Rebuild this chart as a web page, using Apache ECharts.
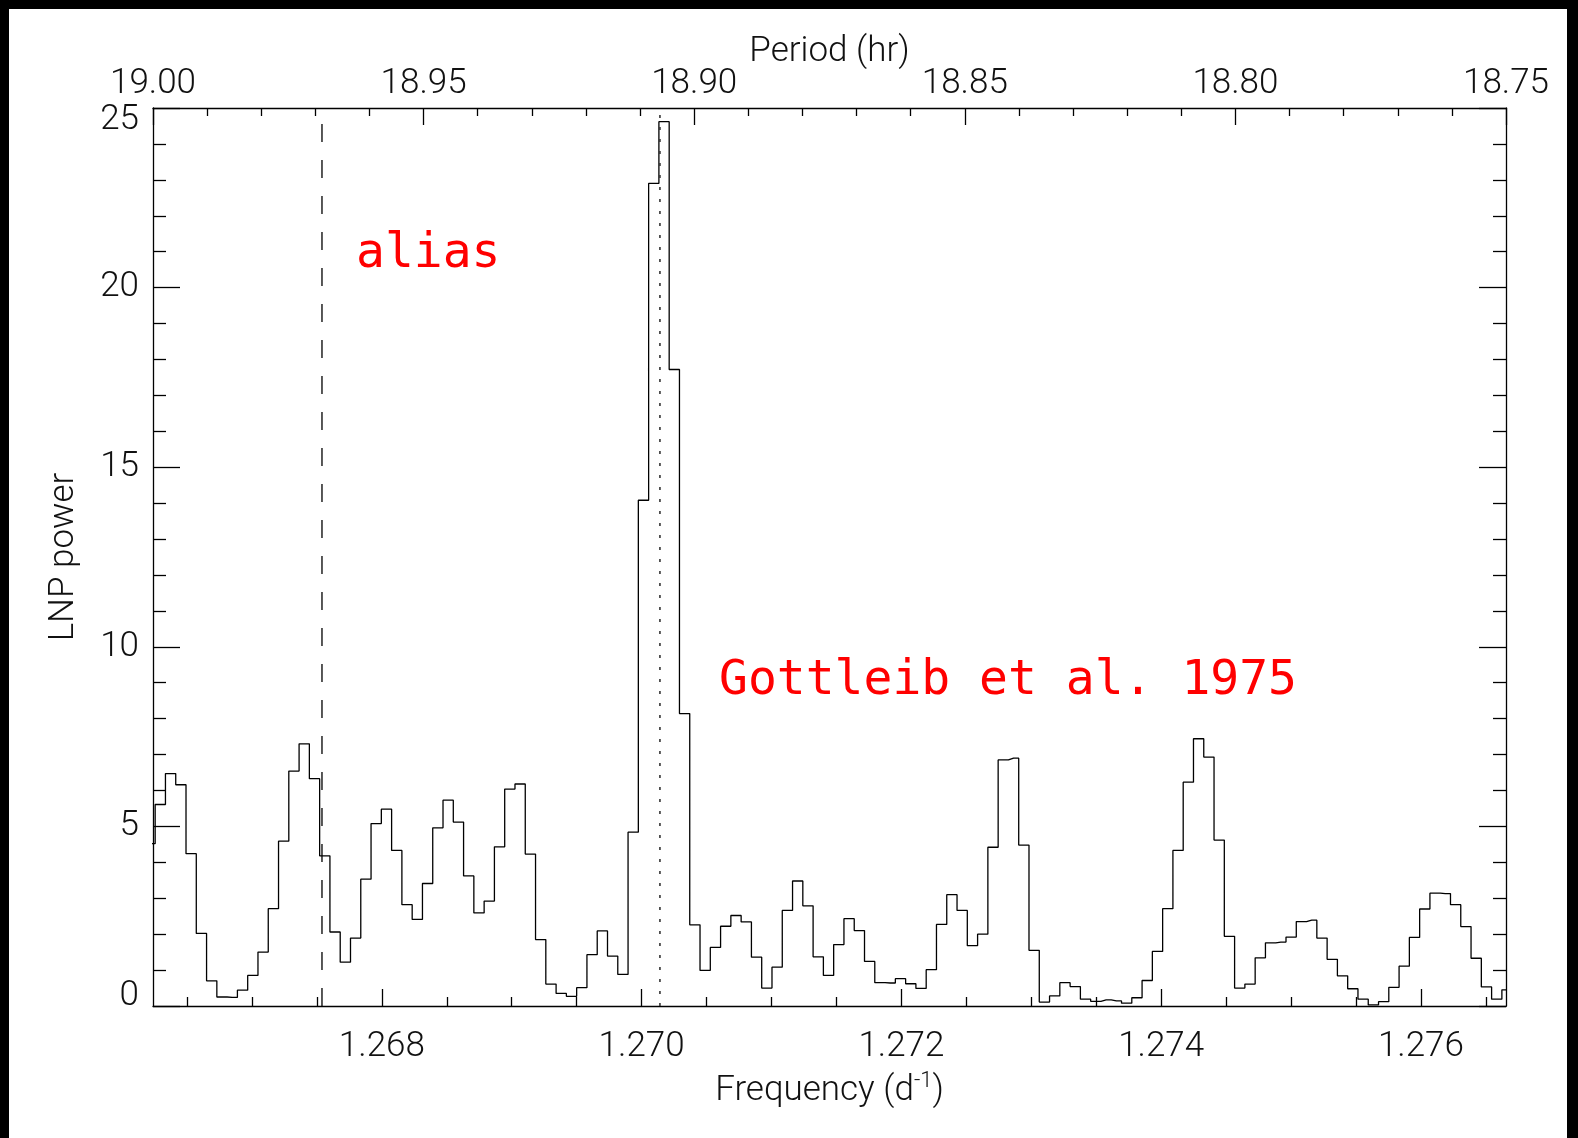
<!DOCTYPE html>
<html>
<head>
<meta charset="utf-8">
<title>LNP periodogram</title>
<script src="https://cdn.jsdelivr.net/npm/echarts@6/dist/echarts.min.js"></script>
<style>
  html, body { margin: 0; padding: 0; background: #fff; }
  #chart { width: 1578px; height: 1138px; }
</style>
</head>
<body>
<div id="chart"></div>
<script>
// Lomb-Normalised-Periodogram power on a uniform frequency grid (d^-1)
const FREQ_FIRST = 1.2662151;   // centre of the first frequency bin
const FREQ_STEP = 0.00007915;   // grid spacing
const lnpPower = [
  4.52, 5.61, 6.47, 6.16, 4.24, 2.02, 0.70, 0.25, 0.24, 0.44,
  0.85, 1.50, 2.71, 4.59, 6.54, 7.30, 6.33, 4.18, 2.06, 1.22,
  1.89, 3.53, 5.08, 5.48, 4.33, 2.82, 2.41, 3.41, 4.96, 5.73,
  5.12, 3.62, 2.59, 2.92, 4.43, 6.04, 6.18, 4.23, 1.85, 0.61,
  0.35, 0.27, 0.51, 1.43, 2.09, 1.39, 0.88, 4.84, 14.08, 22.90,
  24.62, 17.72, 8.14, 2.26, 0.99, 1.63, 2.22, 2.52, 2.34, 1.36,
  0.50, 1.08, 2.66, 3.48, 2.79, 1.37, 0.85, 1.71, 2.43, 2.10,
  1.24, 0.65, 0.64, 0.76, 0.62, 0.49, 1.01, 2.27, 3.10, 2.66,
  1.68, 2.00, 4.42, 6.85, 6.90, 4.48, 1.55, 0.11, 0.28, 0.65,
  0.54, 0.19, 0.13, 0.17, 0.14, 0.08, 0.23, 0.71, 1.52, 2.71,
  4.33, 6.23, 7.44, 6.93, 4.62, 1.94, 0.50, 0.61, 1.34, 1.76,
  1.78, 1.92, 2.35, 2.39, 1.89, 1.30, 0.84, 0.48, 0.19, 0.03,
  0.12, 0.52, 1.11, 1.91, 2.70, 3.14, 3.13, 2.82, 2.21, 1.33,
  0.53, 0.19, 0.45
];

// Axis ranges and ticks
const FREQ_MIN = 1.266238;
const FREQ_MAX = 1.276655;
const freqMajorTicks = [1.268, 1.270, 1.272, 1.274, 1.276];
const freqMinorTicks = [
  1.2665, 1.2670, 1.2675, 1.2685, 1.2690, 1.2695, 1.2705, 1.2710, 1.2715,
  1.2725, 1.2730, 1.2735, 1.2745, 1.2750, 1.2755, 1.2765
];
const PERIOD_MIN = 18.75;
const PERIOD_MAX = 19.00;
const PERIOD_STEP = 0.05;
const POWER_MAX = 25;
const POWER_STEP = 5;

// Reference frequencies marked by vertical lines
const ALIAS_FREQ = 1.267539;
const GOTTLIEB_FREQ = 1.270141;

const periodogram = lnpPower.map((p, i) => [FREQ_FIRST + i * FREQ_STEP, p]);
const aliasLine = [[ALIAS_FREQ, 0], [ALIAS_FREQ, POWER_MAX]];
const gottliebLine = [[GOTTLIEB_FREQ, 0], [GOTTLIEB_FREQ, POWER_MAX]];

const FONT = 'Roboto';
const axisText = { fontFamily: FONT, fontWeight: 300, fontSize: 35, color: '#111' };
const black = { color: '#000', width: 1.3 };

const chart = echarts.init(document.getElementById('chart'), null, { renderer: 'canvas' });

function refLine(data, lineStyle) {
  return {
    type: 'line', xAxisIndex: 0, yAxisIndex: 0, data: data,
    showSymbol: false, symbol: 'none', silent: true, clip: true,
    lineStyle: lineStyle
  };
}

chart.setOption({
  backgroundColor: '#fff',
  animation: false,
  grid: { left: 153, top: 108, width: 1353, height: 898, containLabel: false },
  xAxis: [
    {
      type: 'value', position: 'bottom', min: FREQ_MIN, max: FREQ_MAX,
      axisLine: { show: true, onZero: false, lineStyle: black },
      axisTick: { show: true, inside: true, length: 17, customValues: freqMajorTicks, lineStyle: black },
      axisLabel: Object.assign({ customValues: freqMajorTicks, margin: 24,
        formatter: v => v.toFixed(3) }, axisText),
      splitLine: { show: false },
      name: 'Frequency (d{sup|-1})',
      nameLocation: 'middle', nameGap: 64,
      nameTextStyle: Object.assign({}, axisText, {
        rich: { sup: { fontFamily: FONT, fontWeight: 300, fontSize: 22, color: '#111', verticalAlign: 'top', padding: [0, 0, 20, 0] } }
      })
    },
    {
      type: 'value', position: 'top', min: PERIOD_MIN, max: PERIOD_MAX, interval: PERIOD_STEP,
      inverse: true,
      axisLine: { show: true, onZero: false, lineStyle: black },
      axisTick: { show: true, inside: true, length: 17, lineStyle: black },
      minorTick: { show: true, splitNumber: 5, length: 8, lineStyle: black },
      axisLabel: Object.assign({ margin: 6, formatter: v => v.toFixed(2) }, axisText),
      splitLine: { show: false },
      minorSplitLine: { show: false },
      name: 'Period (hr)', nameLocation: 'middle', nameGap: 38,
      nameMoveOverlap: false,
      nameTextStyle: axisText
    },
    {
      type: 'value', position: 'bottom', min: FREQ_MIN, max: FREQ_MAX,
      axisLine: { show: false, onZero: false },
      axisTick: { show: true, inside: true, length: 9, customValues: freqMinorTicks, lineStyle: black },
      axisLabel: { show: false },
      splitLine: { show: false }
    }
  ],
  yAxis: [
    {
      type: 'value', position: 'left', min: 0, max: POWER_MAX, interval: POWER_STEP,
      axisLine: { show: true, onZero: false, lineStyle: black },
      axisTick: { show: true, inside: true, length: 27, lineStyle: black },
      minorTick: { show: true, splitNumber: 5, length: 13, lineStyle: black },
      axisLabel: Object.assign({
        margin: 14,
        formatter: v => v === 0 ? '{lo|0}' : (v === POWER_MAX ? '{hi|' + v + '}' : String(v)),
        rich: {
          lo: Object.assign({ padding: [0, 0, 20, 0] }, axisText),
          hi: Object.assign({ padding: [24, 0, 0, 0] }, axisText)
        }
      }, axisText),
      splitLine: { show: false },
      minorSplitLine: { show: false },
      name: 'LNP power', nameLocation: 'middle', nameGap: 71, nameRotate: 90,
      nameTextStyle: axisText
    },
    {
      type: 'value', position: 'right', min: 0, max: POWER_MAX, interval: POWER_STEP,
      axisLine: { show: true, onZero: false, lineStyle: black },
      axisTick: { show: true, inside: true, length: 27, lineStyle: black },
      minorTick: { show: true, splitNumber: 5, length: 13, lineStyle: black },
      axisLabel: { show: false },
      splitLine: { show: false },
      minorSplitLine: { show: false }
    }
  ],
  series: [
    {
      type: 'line',
      xAxisIndex: 0, yAxisIndex: 0,
      data: periodogram,
      step: 'middle',
      showSymbol: false,
      symbol: 'none',
      clip: true,
      silent: true,
      lineStyle: { color: '#000', width: 1.3 }
    },
    refLine(aliasLine, { color: '#000', width: 1.3, type: [18, 18] }),
    refLine(gottliebLine, { color: '#333', width: 1.6, type: [3, 9] })
  ],
  graphic: [
    { type: 'text', x: 356, y: 255, z: 10,
      style: { text: 'alias', fill: '#ff0000', font: '48px "DejaVu Sans Mono"', verticalAlign: 'middle' } },
    { type: 'text', x: 719, y: 682, z: 10,
      style: { text: 'Gottleib et al. 1975', fill: '#ff0000', font: '48px "DejaVu Sans Mono"', verticalAlign: 'middle' } },
    // dark frame around the canvas
    { type: 'rect', z: 20, shape: { x: 0, y: 0, width: 1578, height: 9 }, style: { fill: '#000' } },
    { type: 'rect', z: 20, shape: { x: 0, y: 0, width: 9, height: 1138 }, style: { fill: '#000' } },
    { type: 'rect', z: 20, shape: { x: 1567, y: 0, width: 11, height: 1138 }, style: { fill: '#000' } }
  ]
});
</script>
</body>
</html>
